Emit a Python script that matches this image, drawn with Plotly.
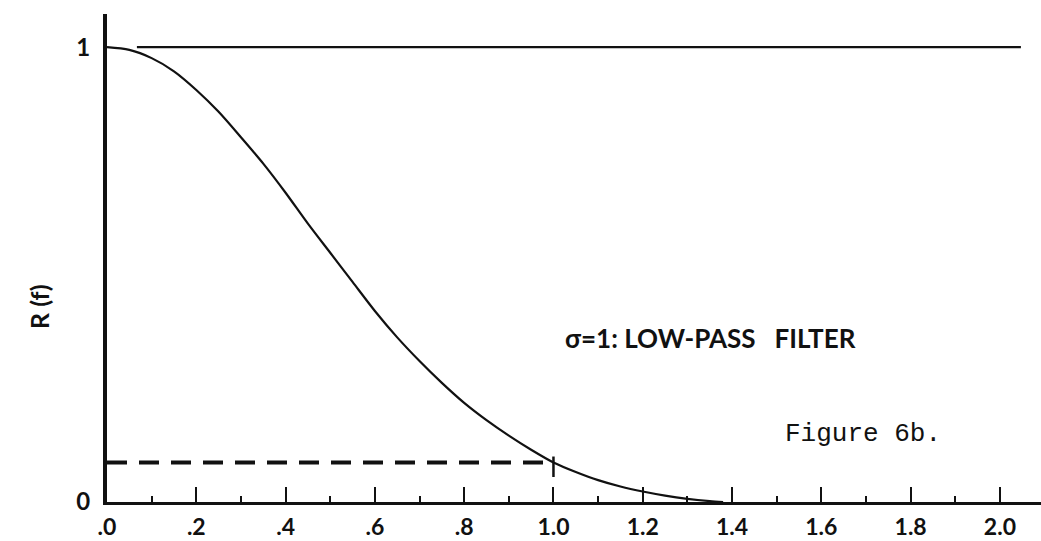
import plotly.graph_objects as go

# Response curve R(f)
freq = [0.0, 0.05, 0.1, 0.15, 0.2, 0.25, 0.3, 0.35, 0.4, 0.45, 0.5, 0.55, 0.6,
        0.65, 0.7, 0.75, 0.8, 0.85, 0.9, 0.95, 1.0, 1.05, 1.1, 1.15, 1.2, 1.25,
        1.3, 1.35, 1.38]
response = [1.0, 0.994, 0.976, 0.947, 0.906, 0.858, 0.802, 0.744, 0.680, 0.612,
            0.548, 0.484, 0.420, 0.362, 0.310, 0.262, 0.218, 0.180, 0.146, 0.115,
            0.087, 0.066, 0.048, 0.034, 0.023, 0.014, 0.007, 0.002, 0.0]

# Reference line at R=1
unity_x = [0.067, 2.047]
unity_y = [1.0, 1.0]

# Dashed cutoff level and marker at f = 1.0
cutoff_x = [0.0, 1.0]
cutoff_y = [0.087, 0.087]
marker_x = [1.0, 1.0]
marker_y = [0.055, 0.10]

x_tickvals = [0.0, 0.2, 0.4, 0.6, 0.8, 1.0, 1.2, 1.4, 1.6, 1.8, 2.0]
x_ticktext = [".0", ".2", ".4", ".6", ".8", "1.0", "1.2", "1.4", "1.6", "1.8", "2.0"]
y_tickvals = [0, 1]
y_ticktext = ["0", "1"]

ink = "#111111"
fig = go.Figure()
fig.add_trace(go.Scatter(x=freq, y=response, mode="lines",
                         line=dict(color=ink, width=2.2, shape="spline", smoothing=0.8),
                         hoverinfo="skip"))
fig.add_trace(go.Scatter(x=unity_x, y=unity_y, mode="lines",
                         line=dict(color=ink, width=2.2), hoverinfo="skip"))
fig.add_trace(go.Scatter(x=cutoff_x, y=cutoff_y, mode="lines",
                         line=dict(color=ink, width=4, dash="20px,12px"), hoverinfo="skip"))
fig.add_trace(go.Scatter(x=marker_x, y=marker_y, mode="lines",
                         line=dict(color=ink, width=2.5), hoverinfo="skip"))

fig.update_layout(
    width=1041, height=541,
    margin=dict(l=107, r=0, t=14, b=39),
    paper_bgcolor="white", plot_bgcolor="white",
    showlegend=False,
    xaxis=dict(range=[0, 2.092], showgrid=False, zeroline=False,
               showline=True, linecolor=ink, linewidth=3,
               ticks="inside", ticklen=15, tickwidth=2, tickcolor=ink,
               tickvals=x_tickvals, ticktext=x_ticktext,
               ticklabelstandoff=2,
               tickfont=dict(family="Lato", size=23, color=ink, weight="bold")),
    yaxis=dict(range=[0, 1.073], showgrid=False, zeroline=False,
               showline=True, linecolor=ink, linewidth=4,
               ticks="", tickvals=y_tickvals, ticktext=y_ticktext,
               ticklabelstandoff=8,
               tickfont=dict(family="Lato", size=24, color=ink, weight="bold")),
    annotations=[
        dict(text="R (f)", x=22, y=307, showarrow=False,
             textangle=-90, font=dict(family="Lato", size=25, color=ink, weight="bold")),
        dict(text="σ=1: LOW-PASS   FILTER", x=563, y=338, xanchor="left", yanchor="middle",
             showarrow=False, font=dict(family="Lato", size=26, color=ink, weight="bold")),
        dict(text="Figure 6b.", x=783, y=434, xanchor="left", yanchor="middle",
             showarrow=False, font=dict(family="Liberation Mono", size=26, color=ink)),
    ],
)
fig.update_xaxes(minor=dict(ticks="inside", ticklen=6, tickwidth=2, tickcolor=ink, dtick=0.1))

# convert pixel-placed annotations to paper coords
W, H = 1041, 541
for a in fig.layout.annotations:
    px, py = a.x, a.y
    a.xref = "paper"; a.yref = "paper"
    a.x = (px - 107) / (W - 107)
    a.y = (H - 39 - py) / (H - 39 - 14)

fig.write_html("out.html")
